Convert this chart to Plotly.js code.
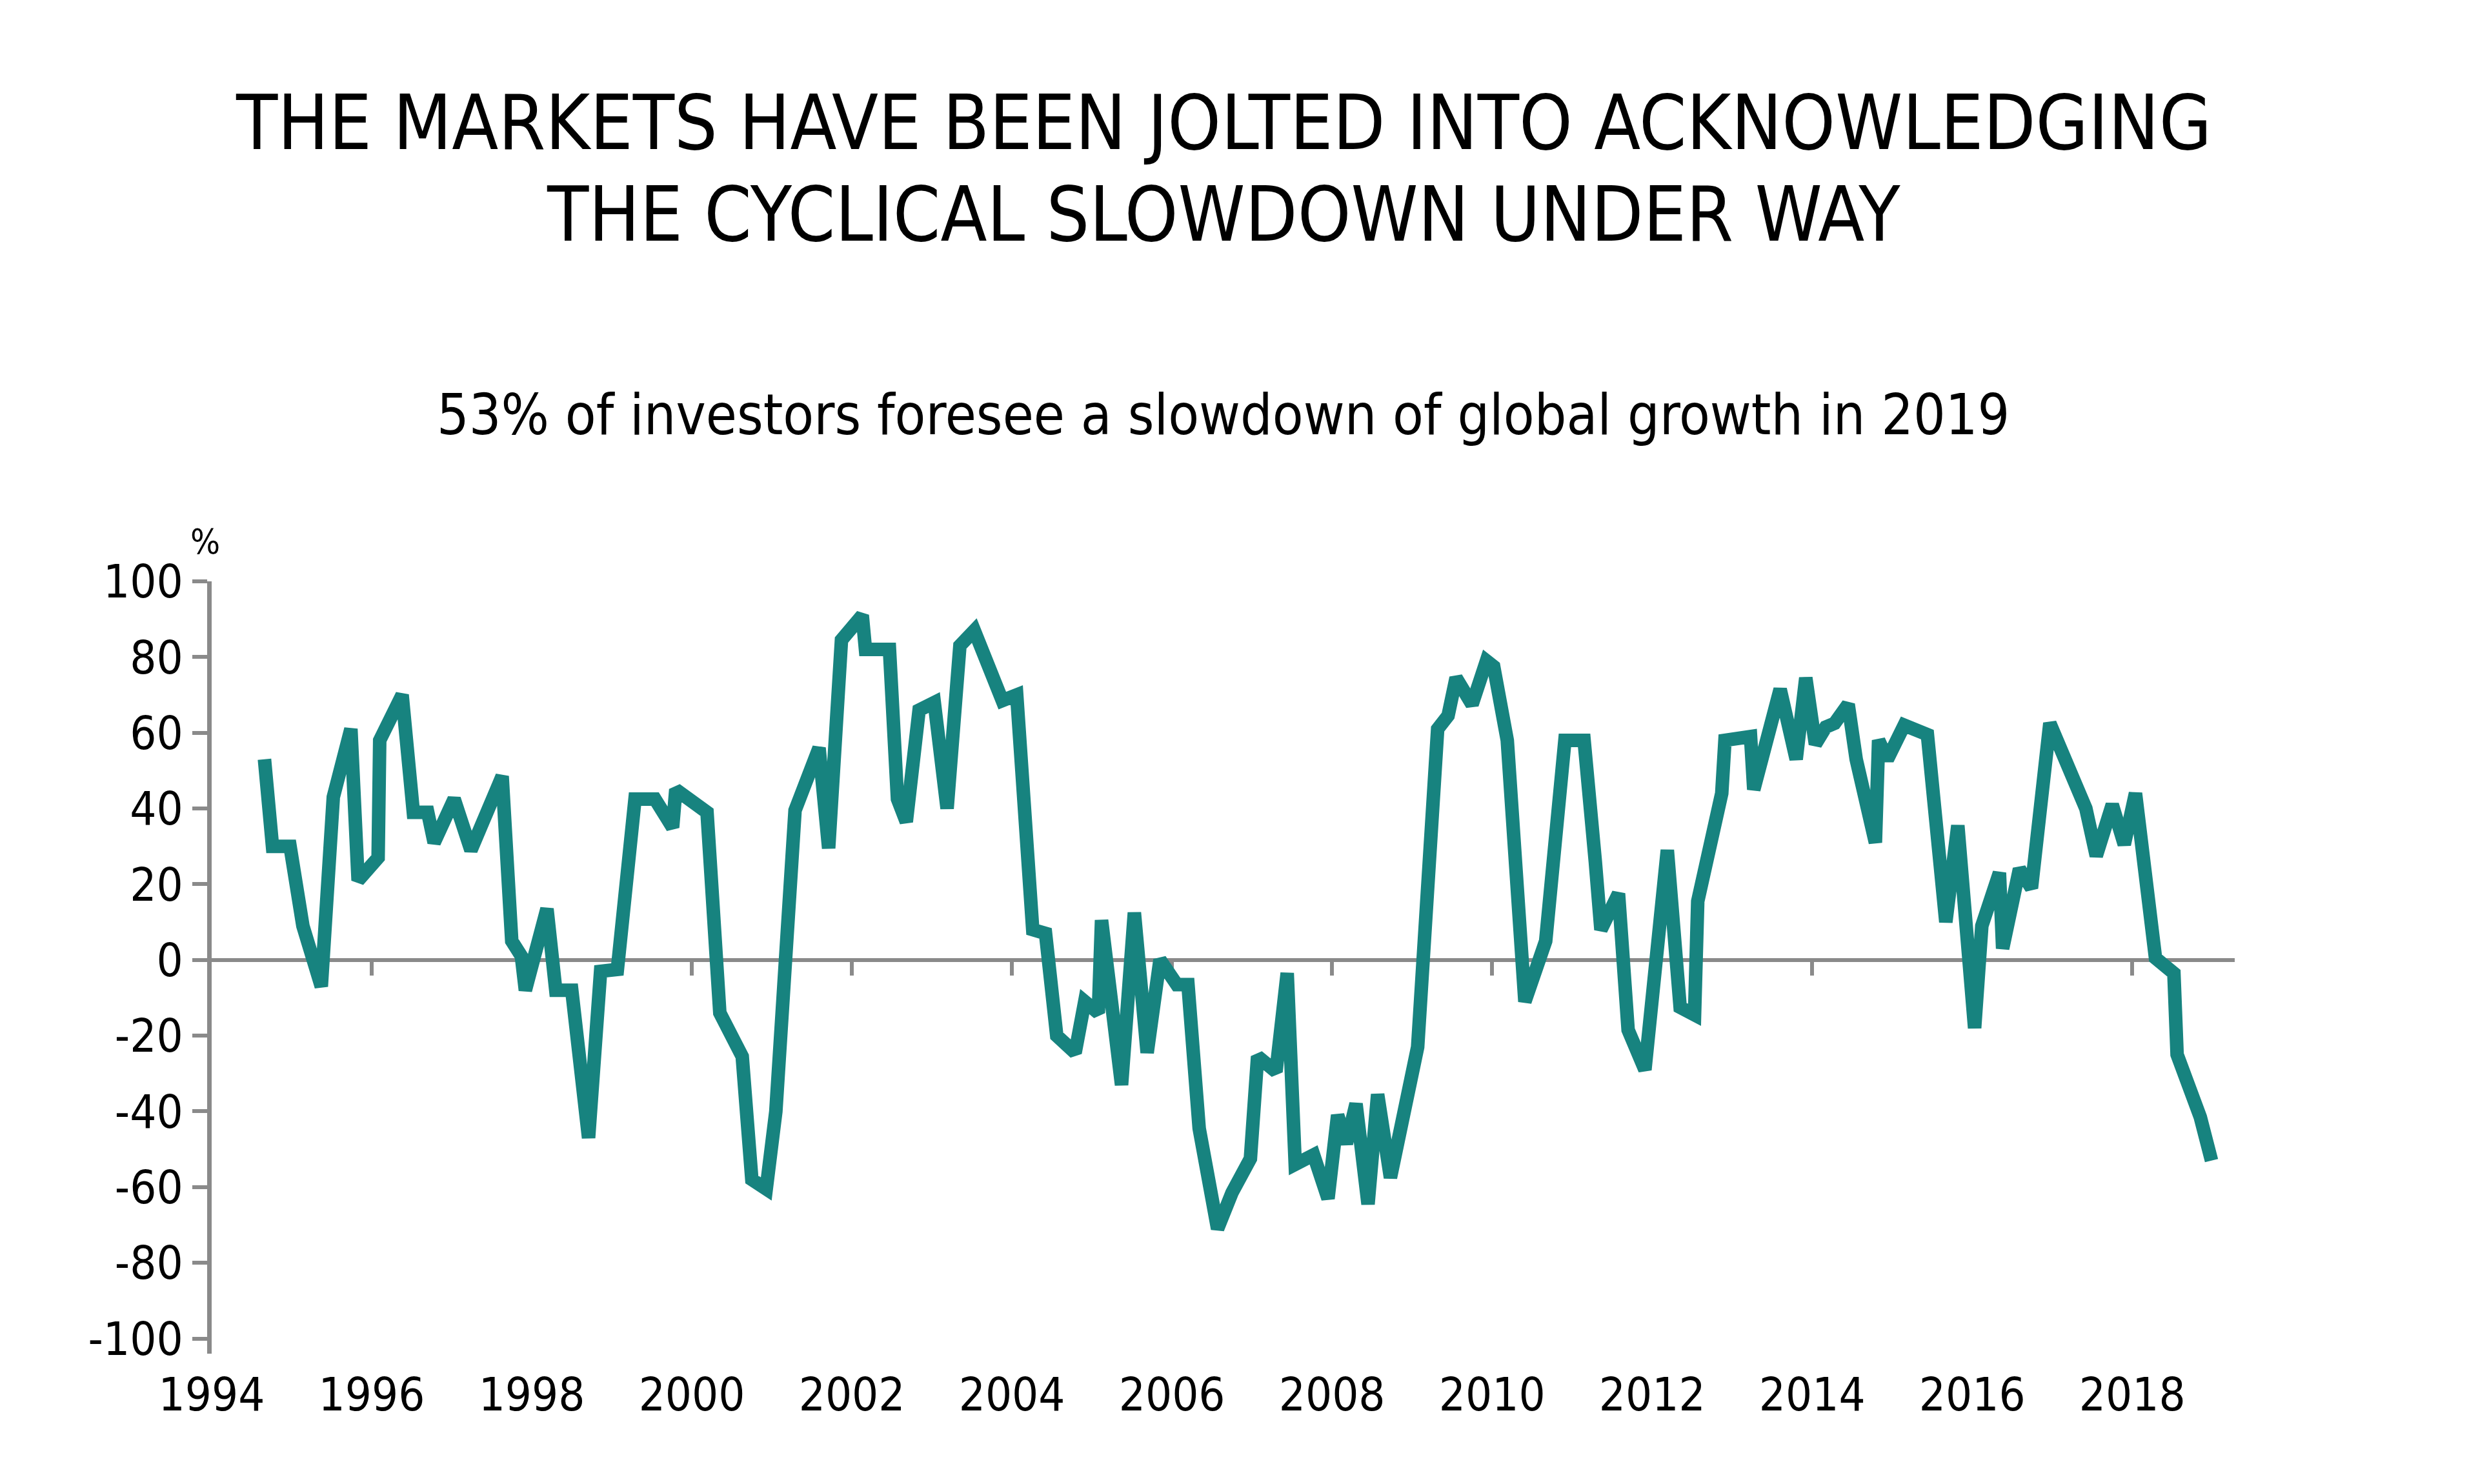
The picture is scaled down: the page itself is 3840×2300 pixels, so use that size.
<!DOCTYPE html>
<html>
<head>
<meta charset="utf-8">
<script src="https://cdn.plot.ly/plotly-3.0.1.min.js"></script>
<style>
  html, body { margin: 0; padding: 0; background: #ffffff; }
  #chart { width: 3840px; height: 2300px; }
</style>
</head>
<body>
<div id="chart"></div>
<script>
// ---- Data ----
const dates = [
  1994.66, 1994.76, 1994.98, 1995.04, 1995.14, 1995.37, 1995.52, 1995.74, 1995.83, 1996.08,
  1996.10, 1996.38, 1996.52, 1996.70, 1996.78, 1997.03, 1997.24, 1997.42, 1997.63, 1997.75,
  1997.87, 1997.92, 1998.19, 1998.30, 1998.50, 1998.71, 1998.86, 1999.07, 1999.29, 1999.54,
  1999.76, 1999.80, 2000.19, 2000.35, 2000.63, 2000.75, 2000.93, 2001.05, 2001.29, 2001.59,
  2001.71, 2001.87, 2002.13, 2002.17, 2002.47, 2002.57, 2002.68, 2002.84, 2003.03, 2003.19,
  2003.35, 2003.53, 2003.88, 2004.06, 2004.26, 2004.42, 2004.56, 2004.79, 2004.91, 2005.08,
  2005.12, 2005.37, 2005.53, 2005.69, 2005.85, 2006.06, 2006.20, 2006.34, 2006.57, 2006.75,
  2006.98, 2007.07, 2007.30, 2007.44, 2007.54, 2007.77, 2007.95, 2008.07, 2008.18, 2008.30,
  2008.45, 2008.57, 2008.73, 2009.07, 2009.32, 2009.45, 2009.55, 2009.75, 2009.93, 2010.02,
  2010.19, 2010.41, 2010.67, 2010.91, 2011.15, 2011.29, 2011.36, 2011.58, 2011.70, 2011.91,
  2012.19, 2012.35, 2012.53, 2012.57, 2012.87, 2012.91, 2013.23, 2013.27, 2013.60, 2013.80,
  2013.92, 2014.04, 2014.17, 2014.28, 2014.45, 2014.55, 2014.79, 2014.83, 2014.94, 2015.15,
  2015.44, 2015.67, 2015.82, 2016.03, 2016.12, 2016.34, 2016.38, 2016.59, 2016.74, 2016.97,
  2017.42, 2017.55, 2017.75, 2017.90, 2018.04, 2018.29, 2018.52, 2018.56, 2018.85, 2018.99
];
const balance = [
  53, 30, 30, 20, 9, -7, 43, 61, 21, 27,
  58, 70, 39, 39, 31, 42.5, 29, 38, 48.5, 5,
  1, -8, 13.5, -8, -8, -47, -3, -2.5, 42.5, 42.5,
  35, 45, 39, -14, -25.5, -58, -60.5, -40, 39.5, 56,
  29.5, 84.5, 91, 82, 82, 42.5, 36.5, 66, 68, 40,
  83, 87, 68.5, 70, 8, 7, -20, -24.5, -11, -14,
  10.5, -33, 12.5, -24.5, 0, -6.5, -6.5, -44.5, -71, -61.5,
  -52.5, -25.5, -29.5, -3.5, -54, -51.5, -63, -41, -48.5, -38,
  -64.5, -35.5, -57.5, -23, 61, 64.5, 74.5, 67.5, 79, 77.5,
  58, -11, 5, 58, 58, 26, 8, 17.5, -18.5, -29,
  29, -12.5, -14.5, 15.5, 44, 58, 59, 45, 71.5, 53,
  74.5, 57, 61.5, 62.5, 67.5, 53, 31, 58, 53, 62,
  59.5, 10, 35.5, -18, 9, 23, 3, 24, 19, 62.5,
  40, 27.5, 41, 30.5, 44, 0.5, -3.5, -25, -41.5, -53
];
const xTickYears = [1994, 1996, 1998, 2000, 2002, 2004, 2006, 2008, 2010, 2012, 2014, 2016, 2018];
const xTickMarks = [1996, 1998, 2000, 2002, 2004, 2006, 2008, 2010, 2012, 2014, 2016, 2018];
const yTicks = [-100, -80, -60, -40, -20, 0, 20, 40, 60, 80, 100];
const titleLine1 = "THE MARKETS HAVE BEEN JOLTED INTO ACKNOWLEDGING";
const titleLine2 = "THE CYCLICAL SLOWDOWN UNDER WAY";
const subtitle = "53% of investors foresee a slowdown of global growth in 2019";
const unitLabel = "%";

// ---- Layout geometry ----
const W = 3840, H = 2300;
const plotL = 328, plotR = 3463, plotT = 901, plotB = 2098;
const yRange = [-104, 100];
const xRange = [1994, 2019.28];
const plotH = plotB - plotT, plotW = plotR - plotL;
const py = (pix) => (plotB - pix) / plotH;   // page pixel -> paper y
const px = (pix) => (pix - plotL) / plotW;   // page pixel -> paper x

const FONT = "'Liberation Sans Narrow', 'DejaVu Sans Condensed', 'Roboto', sans-serif";
const GREY = "#8a8a8a";
const TEAL = "#17837f";

const traces = [
  {
    x: dates, y: balance, type: "scatter", mode: "lines",
    line: { color: TEAL, width: 21 },
    hoverinfo: "x+y", showlegend: false
  },
  {
    x: dates, y: balance, xaxis: "x2", yaxis: "y", type: "scatter", mode: "lines",
    line: { color: TEAL, width: 0 }, opacity: 0, hoverinfo: "skip", showlegend: false
  }
];

const layout = {
  width: W, height: H,
  paper_bgcolor: "#ffffff", plot_bgcolor: "rgba(0,0,0,0)",
  margin: { l: plotL, r: W - plotR, t: plotT, b: H - plotB, pad: 0 },
  font: { family: FONT, color: "#000000", size: 72 },
  showlegend: false,
  xaxis: {
    range: xRange, tickmode: "array", tickvals: xTickYears, ticktext: xTickYears.map(String),
    showline: false, showgrid: false, zeroline: false, ticks: "",
    ticklabelstandoff: 15,
    tickfont: { family: FONT, size: 72, color: "#000" },
    fixedrange: true
  },
  xaxis2: {
    overlaying: "x", anchor: "free", position: (0 - yRange[0]) / (yRange[1] - yRange[0]),
    range: xRange, tickmode: "array", tickvals: xTickMarks, showticklabels: false,
    showline: true, linecolor: GREY, linewidth: 6,
    ticks: "outside", ticklen: 21, tickwidth: 6, tickcolor: GREY,
    showgrid: false, zeroline: false, layer: "below traces", fixedrange: true
  },
  yaxis: {
    range: yRange, tickmode: "array", tickvals: yTicks, ticktext: yTicks.map(String),
    showline: true, linecolor: GREY, linewidth: 7,
    ticks: "outside", ticklen: 23, tickwidth: 6, tickcolor: GREY,
    showgrid: false, zeroline: false,
    tickfont: { family: FONT, size: 72, color: "#000" },
    layer: "below traces", fixedrange: true
  },
  annotations: [
    { text: titleLine1, xref: "paper", yref: "paper", x: 0.5, y: py(190), xanchor: "center", yanchor: "middle",
      showarrow: false, font: { family: FONT, size: 117, color: "#000" } },
    { text: titleLine2, xref: "paper", yref: "paper", x: 0.5, y: py(332), xanchor: "center", yanchor: "middle",
      showarrow: false, font: { family: FONT, size: 117, color: "#000" } },
    { text: subtitle, xref: "paper", yref: "paper", x: 0.5, y: py(643), xanchor: "center", yanchor: "middle",
      showarrow: false, font: { family: FONT, size: 87, color: "#000" } },
    { text: unitLabel, xref: "paper", yref: "paper", x: px(318), y: py(840), xanchor: "center", yanchor: "middle",
      showarrow: false, font: { family: FONT, size: 54, color: "#000" } }
  ]
};

Plotly.newPlot("chart", traces, layout, { displayModeBar: false, staticPlot: true });
</script>
</body>
</html>
